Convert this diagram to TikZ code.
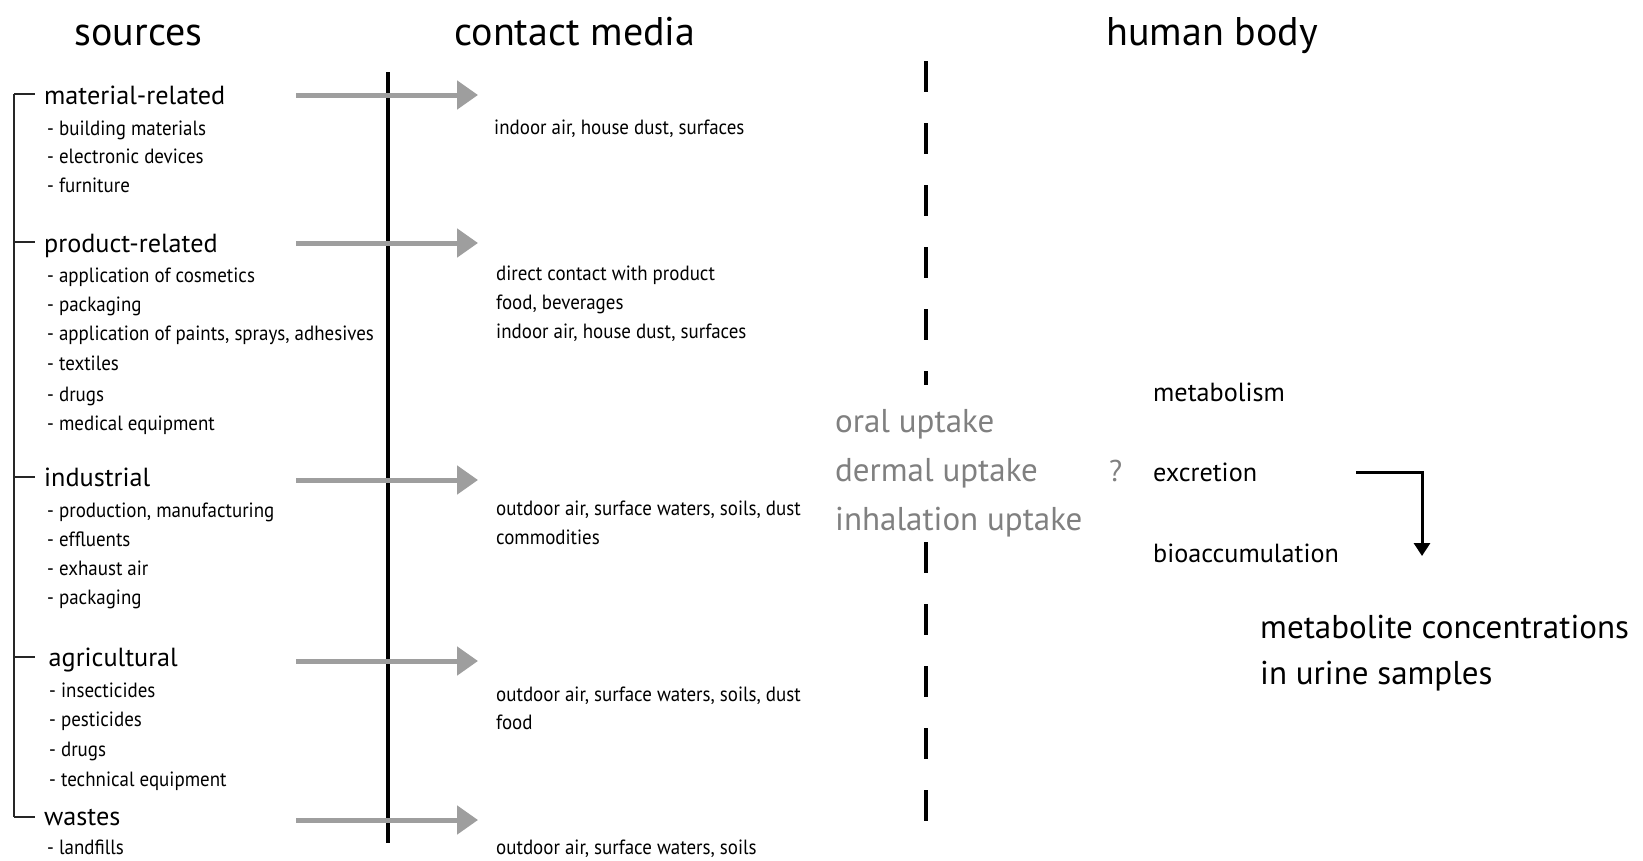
\documentclass[tikz,border=0pt]{standalone}
\usepackage{fontspec}
\setmainfont{PT Sans}
\newfontfamily\narrowsans[FakeStretch=0.92]{PT Sans}
\usetikzlibrary{arrows.meta}
\definecolor{arrowgray}{RGB}{158,158,158}
\definecolor{txtgray}{RGB}{128,128,128}
\begin{document}
\begin{tikzpicture}[x=1pt,y=-1pt,
  title/.style={anchor=base,inner sep=0pt,font=\fontsize{40}{48}\selectfont},
  head/.style={anchor=base west,inner sep=0pt,font=\fontsize{26.2}{32}\selectfont},
  item/.style={anchor=base west,inner sep=0pt,font=\narrowsans\fontsize{20.6}{24}\selectfont},
  big/.style={anchor=base west,inner sep=0pt,font=\fontsize{33}{40}\selectfont},
  garrow/.style={draw=arrowgray,line width=5pt,-{Triangle[length=21pt,width=28pt]}},
  barrow/.style={draw=black,line width=3pt,-{Triangle[length=13pt,width=16pt]}},
  bracket/.style={draw=black!85,line width=2pt},
  divider/.style={draw=black,line width=3.3pt},
  dashdiv/.style={draw=black,line width=3.5pt,dash pattern=on 31pt off 31pt}
]
\fill[white] (0,0) rectangle (1643,860);
\useasboundingbox (0,0) rectangle (1643,860);

% titles
\node[title] (tsrc) at (138.5,45) {sources};
\node[title] (tcm) at (575,45) {contact media};
\node[title] (thb) at (1212,45) {human body};

% bracket
\coordinate (bt) at (14,94);
\coordinate (bb) at (14,817);
\draw[bracket] (bt) -- (bb);
\foreach \yy/\nm in {94/k1,242/k2,477/k3,657/k4,817/k5}{
  \coordinate (\nm a) at (14,\yy);
  \coordinate (\nm b) at (35,\yy);
  \draw[bracket] (\nm a) -- (\nm b);
}

% sources
\node[head] (h1) at (44,104) {material-related};
\node[item] (i11) at (47,135) {- building materials};
\node[item] (i12) at (47,163.5) {- electronic devices};
\node[item] (i13) at (47,192.5) {- furniture};

\node[head] (h2) at (44,252) {product-related};
\node[item] (i21) at (47,282) {- application of cosmetics};
\node[item] (i22) at (47,311) {- packaging};
\node[item] (i23) at (47,340) {- application of paints, sprays, adhesives};
\node[item] (i24) at (47,370) {- textiles};
\node[item] (i25) at (47,401) {- drugs};
\node[item] (i26) at (47,430) {- medical equipment};

\node[head] (h3) at (44,486) {industrial};
\node[item] (i31) at (47,517) {- production, manufacturing};
\node[item] (i32) at (47,546) {- effluents};
\node[item] (i33) at (47,575) {- exhaust air};
\node[item] (i34) at (47,604) {- packaging};

\node[head] (h4) at (48.5,666) {agricultural};
\node[item] (i41) at (49,697) {- insecticides};
\node[item] (i42) at (49,726) {- pesticides};
\node[item] (i43) at (49,756) {- drugs};
\node[item] (i44) at (49,786) {- technical equipment};

\node[head] (h5) at (44,825) {wastes};
\node[item] (i51) at (47,854) {- landfills};

% divider
\coordinate (dt) at (388,72);
\coordinate (db) at (388,843);
\draw[divider] (dt) -- (db);

% gray arrows
\foreach \yy/\nm in {95/g1,243/g2,480/g3,661/g4,820/g5}{
  \coordinate (\nm s) at (296,\yy);
  \coordinate (\nm e) at (478,\yy);
  \draw[garrow] (\nm s) -- (\nm e);
}

% contact media
\node[item] (c11) at (494,134) {indoor air, house dust, surfaces};
\node[item] (c21) at (496,280) {direct contact with product};
\node[item] (c22) at (496,309) {food, beverages};
\node[item] (c23) at (496,338) {indoor air, house dust, surfaces};
\node[item] (c31) at (496,515) {outdoor air, surface waters, soils, dust};
\node[item] (c32) at (496,544) {commodities};
\node[item] (c41) at (496,701) {outdoor air, surface waters, soils, dust};
\node[item] (c42) at (496,729) {food};
\node[item] (c51) at (496,854) {outdoor air, surface waters, soils};

% dashed divider
\coordinate (d1t) at (926,61);
\coordinate (d1b) at (926,385);
\coordinate (d2t) at (926,542);
\coordinate (d2b) at (926,826);
\draw[dashdiv] (d1t) -- (d1b);
\draw[dashdiv] (d2t) -- (d2b);

% uptake
\node[big,text=txtgray] (u1) at (835,432) {oral uptake};
\node[big,text=txtgray] (u2) at (835,481.5) {dermal uptake};
\node[big,text=txtgray] (u3) at (835,530) {inhalation uptake};

% human body
\node[anchor=base west,inner sep=0pt,font=\fontsize{30}{36}\selectfont,text=txtgray] (q) at (1109,481.5) {?};
\node[head] (m1) at (1153,401) {metabolism};
\node[head] (m2) at (1153,481.5) {excretion};
\node[head] (m3) at (1153,562) {bioaccumulation};

\coordinate (as) at (1356,472);
\coordinate (ae) at (1422,556);
\draw[barrow] (as) -| (ae);

\node[big] (r1) at (1260,638) {metabolite concentrations};
\node[big] (r2) at (1260,684) {in urine samples};
\end{tikzpicture}
\end{document}
